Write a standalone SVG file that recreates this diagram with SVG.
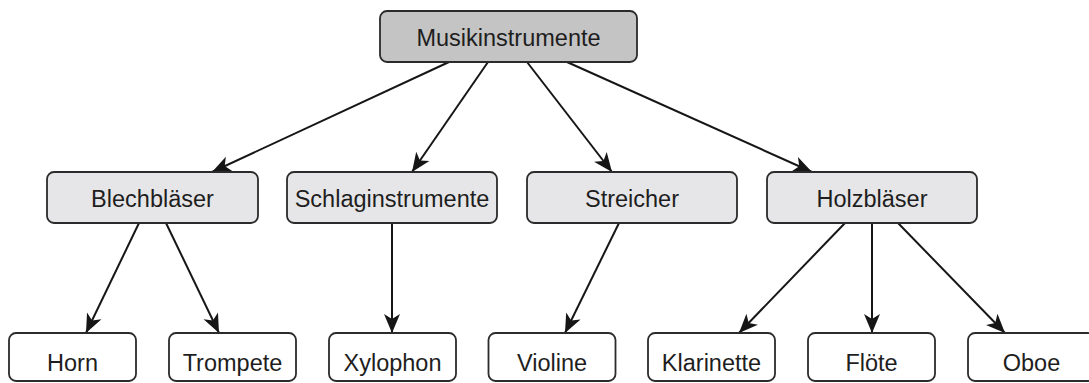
<svg xmlns="http://www.w3.org/2000/svg" width="1089" height="383" viewBox="0 0 1089 383">
  <style>
    .box { stroke: #2b2b2b; stroke-width: 1.8; }
    .root { fill: #c4c4c4; }
    .mid { fill: #e6e6e8; }
    .leaf { fill: #ffffff; }
    .lbl { font-family: "Liberation Sans", Arial, sans-serif; font-size: 23.5px; fill: #1e1e1e; text-anchor: middle; }
    .edge { stroke: #161616; stroke-width: 2; fill: none; marker-end: url(#arrow); }
  </style>
  <defs>
    <marker id="arrow" markerUnits="userSpaceOnUse" viewBox="-1 -9 21 18" markerWidth="21" markerHeight="18" refX="19" refY="0" orient="auto">
      <path d="M0,-8 L19,0 L0,8 L5,0 Z" fill="#161616"/>
    </marker>
  </defs>

  <rect width="1089" height="383" fill="#ffffff"/>

  <!-- connectors -->
  <g id="connectors">
    <line class="edge" x1="449" y1="62" x2="212" y2="172"/>
    <line class="edge" x1="488" y1="62" x2="412" y2="172"/>
    <line class="edge" x1="527" y1="62" x2="612" y2="172"/>
    <line class="edge" x1="567" y1="62" x2="812" y2="172"/>
    <line class="edge" x1="139" y1="223" x2="86" y2="333"/>
    <line class="edge" x1="166" y1="223" x2="219" y2="333"/>
    <line class="edge" x1="392" y1="223" x2="392" y2="333"/>
    <line class="edge" x1="619" y1="223" x2="565" y2="333"/>
    <line class="edge" x1="845" y1="223" x2="739" y2="333"/>
    <line class="edge" x1="872" y1="223" x2="872" y2="333"/>
    <line class="edge" x1="898" y1="223" x2="1005" y2="333"/>
  </g>

  <!-- root -->
  <g id="musikinstrumente">
    <rect class="box root" x="380" y="11" width="257" height="51" rx="7"/>
    <text class="lbl" x="508.5" y="46">Musikinstrumente</text>
  </g>

  <!-- families -->
  <g id="blechblaeser">
    <rect class="box mid" x="47" y="172" width="211" height="51" rx="7"/>
    <text class="lbl" x="152.5" y="207">Blechbläser</text>
  </g>
  <g id="schlaginstrumente">
    <rect class="box mid" x="287" y="172" width="210" height="51" rx="7"/>
    <text class="lbl" x="392" y="207">Schlaginstrumente</text>
  </g>
  <g id="streicher">
    <rect class="box mid" x="527" y="172" width="210" height="51" rx="7"/>
    <text class="lbl" x="632" y="207">Streicher</text>
  </g>
  <g id="holzblaeser">
    <rect class="box mid" x="767" y="172" width="210" height="51" rx="7"/>
    <text class="lbl" x="872" y="207">Holzbläser</text>
  </g>

  <!-- instruments -->
  <g id="horn">
    <rect class="box leaf" x="9" y="333" width="127" height="48" rx="7"/>
    <text class="lbl" x="72.5" y="371">Horn</text>
  </g>
  <g id="trompete">
    <rect class="box leaf" x="169" y="333" width="127" height="48" rx="7"/>
    <text class="lbl" x="232.5" y="371">Trompete</text>
  </g>
  <g id="xylophon">
    <rect class="box leaf" x="329" y="333" width="127" height="48" rx="7"/>
    <text class="lbl" x="392.5" y="371">Xylophon</text>
  </g>
  <g id="violine">
    <rect class="box leaf" x="488.5" y="333" width="127" height="48" rx="7"/>
    <text class="lbl" x="552" y="371">Violine</text>
  </g>
  <g id="klarinette">
    <rect class="box leaf" x="648" y="333" width="127" height="48" rx="7"/>
    <text class="lbl" x="711.5" y="371">Klarinette</text>
  </g>
  <g id="floete">
    <rect class="box leaf" x="808" y="333" width="127" height="48" rx="7"/>
    <text class="lbl" x="871.5" y="371">Flöte</text>
  </g>
  <g id="oboe">
    <rect class="box leaf" x="968" y="333" width="127" height="48" rx="7"/>
    <text class="lbl" x="1031.5" y="371">Oboe</text>
  </g>
</svg>
